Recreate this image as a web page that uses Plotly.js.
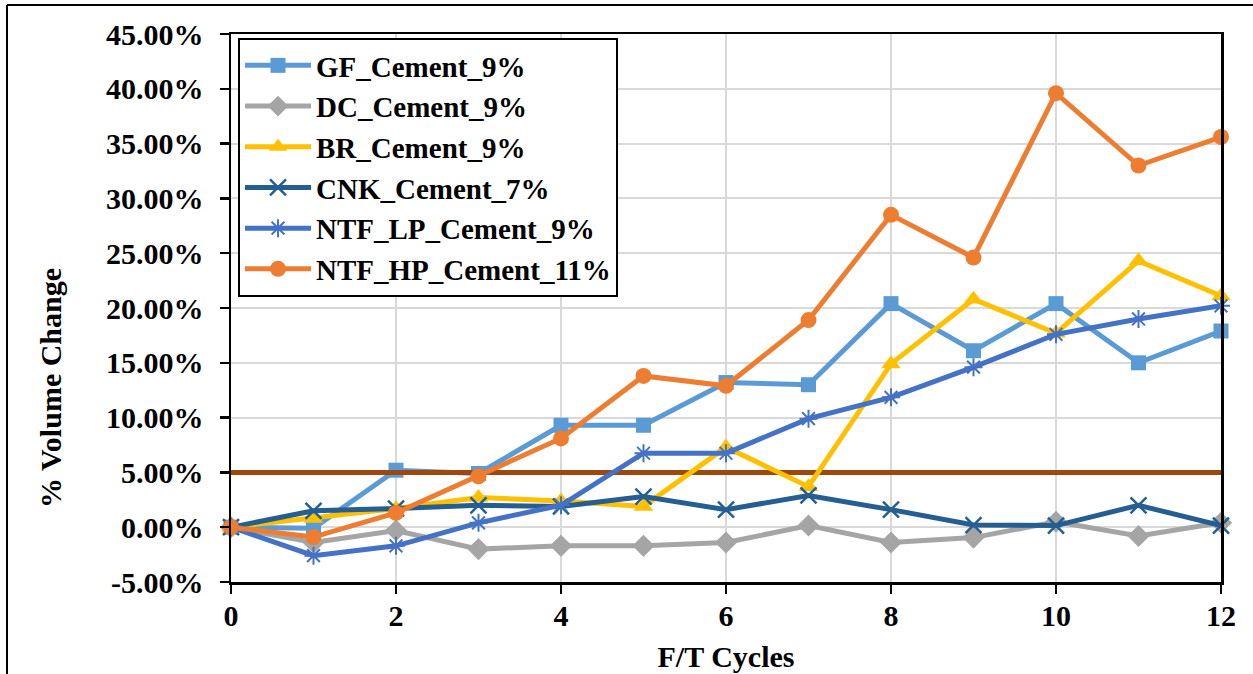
<!DOCTYPE html>
<html>
<head>
<meta charset="utf-8">
<script src="https://cdn.plot.ly/plotly-3.0.1.min.js"></script>
<style>html,body{margin:0;padding:0;background:#fff;}#chart{width:1253px;height:674px;}</style>
</head>
<body>
<div id="chart"></div>
<script>
// ---- data (percent volume change) ----
const cycles = [0,1,2,3,4,5,6,7,8,9,10,11,12];
const seriesNames = ["GF_Cement_9%","DC_Cement_9%","BR_Cement_9%","CNK_Cement_7%","NTF_LP_Cement_9%","NTF_HP_Cement_11%"];
const gf  = [0, -0.1, 5.2, 4.9, 9.3, 9.3, 13.2, 13.0, 20.4, 16.1, 20.4, 15.0, 17.9];
const dc  = [0, -1.4, -0.3, -2.0, -1.7, -1.7, -1.4, 0.15, -1.4, -0.95, 0.5, -0.8, 0.4];
const br  = [0, 0.8, 1.7, 2.7, 2.4, 1.9, 7.3, 3.7, 14.9, 20.8, 17.7, 24.3, 21.1];
const cnk = [0, 1.5, 1.7, 2.0, 1.9, 2.8, 1.6, 2.9, 1.6, 0.2, 0.15, 2.0, 0.15];
const lp  = [0, -2.6, -1.7, 0.4, 2.0, 6.75, 6.75, 9.9, 11.85, 14.6, 17.6, 19.0, 20.2];
const hp  = [0, -0.9, 1.3, 4.65, 8.1, 13.8, 12.9, 18.9, 28.5, 24.6, 39.6, 33.0, 35.6];
const limitX = [0, 12];
const limitY = [5, 5];
const yTickVals = [-5,0,5,10,15,20,25,30,35,40,45];
const yTickText = ["-5.00%","0.00%","5.00%","10.00%","15.00%","20.00%","25.00%","30.00%","35.00%","40.00%","45.00%"];
const xTickVals = [0,2,4,6,8,10,12];

const FONT = "Liberation Serif, Times New Roman, serif";

function series(name, y, color, symbol, msize, extra) {
  return Object.assign({
    type: 'scatter', mode: 'lines+markers', name: name, x: cycles, y: y,
    line: {color: color, width: 5},
    marker: {color: color, symbol: symbol, size: msize},
    cliponaxis: false
  }, extra || {});
}

const traces = [
  series(seriesNames[0], gf, '#5B9BD5', 'square', 15),
  {type:'scatter', mode:'lines', x: limitX, y: limitY, showlegend:false,
   line:{color:'#9E480E', width:5}, hoverinfo:'skip', cliponaxis:false},
  series(seriesNames[1], dc, '#A5A5A5', 'diamond', 17),
  series(seriesNames[2], br, '#FFC000', 'triangle-up', 17),
  series(seriesNames[3], cnk, '#255E91', 'x-thin-open', 16, {marker:{color:'#255E91', symbol:'x-thin-open', size:16, line:{color:'#255E91', width:2.5}}}),
  series(seriesNames[4], lp, '#4472C4', 'asterisk-open', 15, {marker:{color:'#4472C4', symbol:'asterisk-open', size:15, line:{color:'#4472C4', width:2}}}),
  series(seriesNames[5], hp, '#ED7D31', 'circle', 16)
];

// paper coordinate helpers for decorative frame (plot area 231..1221 x, 34..582 y)
const L = 231, R = 1221, T = 34, B = 582;
const px = v => (v - L) / (R - L);
const py = v => (B - v) / (B - T);

const axisFont = {family: FONT, size: 30, color: '#000', weight: 'bold'};

const layout = {
  width: 1253, height: 674,
  margin: {l: L, r: 1253 - R, t: T, b: 674 - B, pad: 0},
  paper_bgcolor: '#fff', plot_bgcolor: '#fff',
  showlegend: true,
  xaxis: {
    range: [0, 12], tickvals: xTickVals, ticks: 'outside', ticklen: 9, tickwidth: 2.5, tickcolor: '#000',
    showline: true, linecolor: '#000', linewidth: 2.5, mirror: true,
    showgrid: true, gridcolor: '#D9D9D9', gridwidth: 2, zeroline: false,
    tickfont: axisFont, ticklabelstandoff: -4,
    title: {text: 'F/T Cycles', font: axisFont, standoff: 16},
    automargin: false
  },
  yaxis: {
    range: [-5, 45], tickmode: 'array', tickvals: yTickVals, ticktext: yTickText,
    ticks: 'outside', ticklen: 9, tickwidth: 2.5, tickcolor: '#000',
    showline: true, linecolor: '#000', linewidth: 2.5, mirror: true,
    showgrid: true, gridcolor: '#D9D9D9', gridwidth: 2, zeroline: false,
    tickfont: axisFont, ticklabelstandoff: 10,
    automargin: false
  },
  xaxis2: {overlaying: 'x', anchor: 'y', range: [0, 12], tickvals: xTickVals, ticks: 'inside', ticklen: 9, tickwidth: 2.5,
    tickcolor: '#000', showticklabels: false, showgrid: false, zeroline: false, showline: false},
  yaxis2: {overlaying: 'y', anchor: 'x', range: [-5, 45], tickvals: yTickVals, ticks: 'inside', ticklen: 9, tickwidth: 2.5,
    tickcolor: '#000', showticklabels: false, showgrid: false, zeroline: false, showline: false},
  legend: {
    x: px(238), y: py(38), xanchor: 'left', yanchor: 'top',
    bgcolor: '#fff', bordercolor: '#000', borderwidth: 2,
    font: {family: FONT, size: 29, color: '#000', weight: 'bold'},
    itemwidth: 66, tracegroupgap: 0
  },
  annotations: [{
    text: '% Volume Change', xref: 'paper', yref: 'paper', x: px(50), y: py(388),
    textangle: -90, showarrow: false, font: axisFont, xanchor: 'center', yanchor: 'middle'
  }],
  shapes: [
    {type: 'line', xref: 'paper', yref: 'paper', x0: px(7), x1: px(1260), y0: py(5), y1: py(5), line: {color: '#000', width: 2}},
    {type: 'line', xref: 'paper', yref: 'paper', x0: px(7), x1: px(7), y0: py(5), y1: py(690), line: {color: '#000', width: 2}}
  ]
};

Plotly.newPlot('chart', traces, layout, {displayModeBar: false, staticPlot: true});
</script>
</body>
</html>
